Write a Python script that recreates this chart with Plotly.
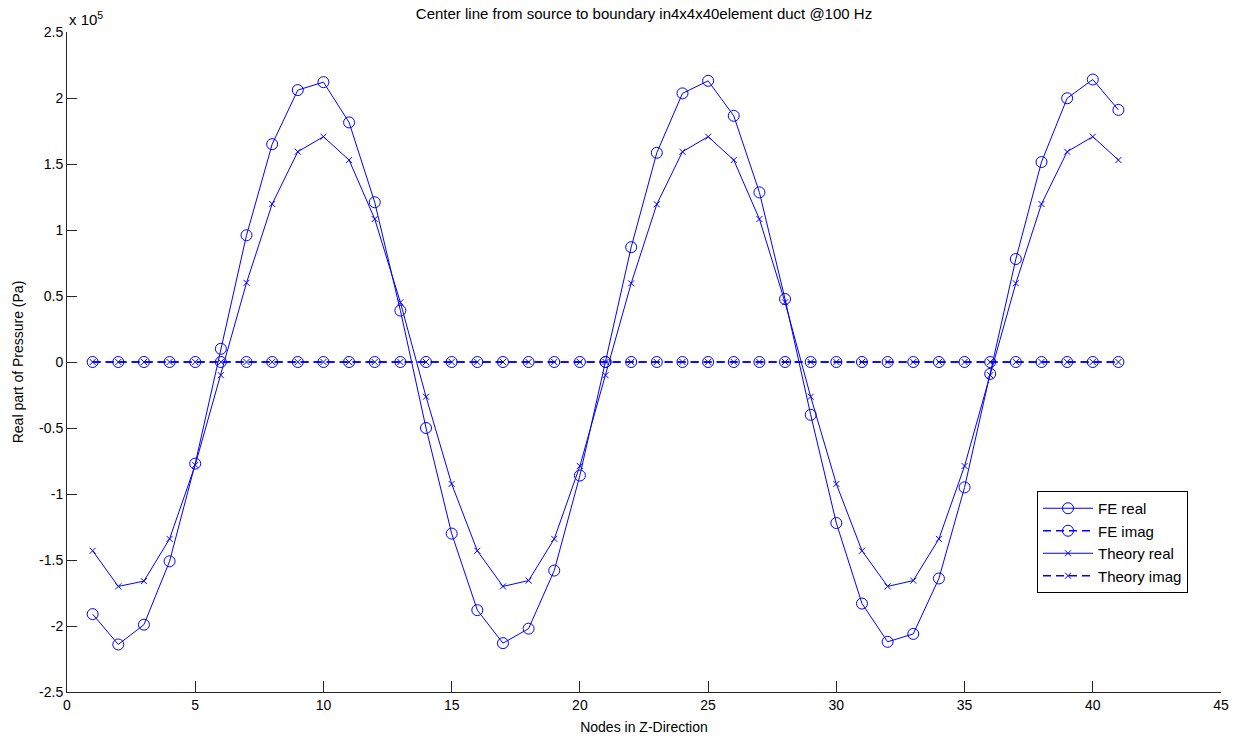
import plotly.graph_objects as go

nodes = list(range(1, 42))

# values in units of 1e5 Pa
fe_real = [-1.91, -2.14, -1.99, -1.51, -0.77, 0.10, 0.96, 1.65, 2.06, 2.12,
           1.815, 1.21, 0.39, -0.50, -1.30, -1.88, -2.13, -2.02, -1.58, -0.86,
           0.0, 0.87, 1.585, 2.035, 2.13, 1.865, 1.285, 0.477, -0.40, -1.22,
           -1.83, -2.12, -2.06, -1.64, -0.95, -0.09, 0.78, 1.515, 1.998, 2.14,
           1.91]
fe_imag = [0.0] * 41
theory_real = [-1.43, -1.70, -1.66, -1.34, -0.78, -0.10, 0.60, 1.197, 1.593, 1.707,
               1.53, 1.083, 0.452, -0.263, -0.924, -1.43, -1.70, -1.656, -1.34, -0.788,
               -0.10, 0.596, 1.195, 1.593, 1.707, 1.53, 1.083, 0.452, -0.263, -0.924,
               -1.43, -1.70, -1.656, -1.34, -0.788, -0.10, 0.596, 1.197, 1.593, 1.707,
               1.53]
theory_imag = [0.0] * 41

scale = 1e5
y_ticks = [-2.5, -2, -1.5, -1, -0.5, 0, 0.5, 1, 1.5, 2, 2.5]
y_tick_text = ["-2.5", "-2", "-1.5", "-1", "-0.5", "0", "0.5", "1", "1.5", "2", "2.5"]
x_ticks = [0, 5, 10, 15, 20, 25, 30, 35, 40, 45]

blue = "#0000FF"
font = "Liberation Sans, Arial, sans-serif"

fig = go.Figure()
fig.add_trace(go.Scatter(x=nodes, y=[v * scale for v in fe_real], name="FE real",
                         mode="lines+markers", line=dict(color=blue, width=1),
                         marker=dict(symbol="circle-open", size=11, color=blue, line=dict(width=1))))
fig.add_trace(go.Scatter(x=nodes, y=[v * scale for v in fe_imag], name="FE imag",
                         mode="lines+markers", line=dict(color=blue, width=1.6, dash="8px,5px"),
                         marker=dict(symbol="circle-open", size=11, color=blue, line=dict(width=1))))
fig.add_trace(go.Scatter(x=nodes, y=[v * scale for v in theory_real], name="Theory real",
                         mode="lines+markers", line=dict(color=blue, width=1),
                         marker=dict(symbol="x-thin-open", size=6, color=blue, line=dict(width=1, color=blue))))
fig.add_trace(go.Scatter(x=nodes, y=[v * scale for v in theory_imag], name="Theory imag",
                         mode="lines+markers", line=dict(color=blue, width=1.6, dash="8px,5px"),
                         marker=dict(symbol="x-thin-open", size=6, color=blue, line=dict(width=1, color=blue))))

axis_color = "#262626"
fig.update_layout(
    width=1239, height=740,
    margin=dict(l=67, r=18, t=32, b=48),
    paper_bgcolor="white", plot_bgcolor="white",
    font=dict(family=font, size=14, color="#000000"),
    title=dict(text="Center line from source to boundary in4x4x40element duct @100 Hz",
               x=0.5, xref="paper", xanchor="center", y=1 - 14 / 740, yanchor="middle",
               font=dict(size=15, family=font, color="#000000")),
    showlegend=True,
    legend=dict(x=(1037 - 67) / 1154, y=(692 - 491) / 660, xanchor="left", yanchor="top",
                bgcolor="white", bordercolor="#000000", borderwidth=1,
                font=dict(size=15, family=font), traceorder="normal", itemwidth=50),
    xaxis=dict(range=[0, 45], tickvals=x_ticks, ticks="inside", ticklen=11, tickcolor=axis_color,
               showline=True, linecolor=axis_color, linewidth=1, showgrid=False, zeroline=False,
               mirror=False, automargin=False,
               title=dict(text="Nodes in Z-Direction", standoff=10, font=dict(size=14)),
               tickfont=dict(size=14)),
    yaxis=dict(range=[-2.5 * scale, 2.5 * scale], tickvals=[t * scale for t in y_ticks],
               ticktext=y_tick_text, ticks="inside", ticklen=10, tickcolor=axis_color,
               showline=True, linecolor=axis_color, linewidth=1, showgrid=False, zeroline=False,
               automargin=False,
               title=dict(text="Real part of Pressure (Pa)", standoff=12, font=dict(size=14)),
               tickfont=dict(size=14)),
    annotations=[dict(text="x 10<sup>5</sup>", xref="paper", yref="paper", x=0, y=(692 - 19) / 660,
                      xanchor="left", yanchor="middle", showarrow=False, font=dict(size=15, family=font))],
)

fig.write_html("out.html")
